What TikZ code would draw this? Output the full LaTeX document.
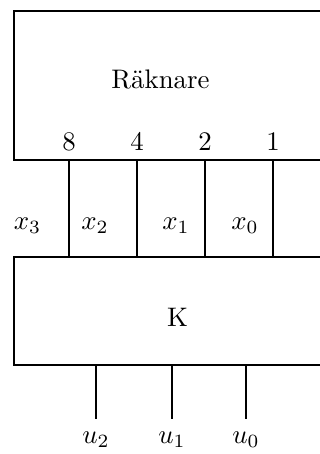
\documentclass[tikz,border=0pt]{standalone}
\begin{document}
\begin{tikzpicture}[x=0.373pt,y=-0.373pt,
  box/.style={draw,line width=1.1pt,rectangle,inner sep=0pt,outer sep=0pt,anchor=north west},
  wire/.style={line width=1.1pt},
  lab/.style={inner sep=0pt,anchor=center}]
\useasboundingbox (0,0) rectangle (320,454);
\clip (0,0) rectangle (320,454);
% boxes
\node[box,minimum width=340*0.373pt,minimum height=149*0.373pt] (cnt) at (14,11) {};
\node[box,minimum width=340*0.373pt,minimum height=108*0.373pt] (K) at (14,257) {};
\node[lab] (cntt) at (160.5,79) {Räknare};
\node[lab] (Kt) at (177.5,317) {K};
% weights
\foreach \n/\x/\w in {a/69/8,b/137/4,c/205/2,d/273/1}{
  \node[lab] (w\n) at (\x,141.5) {\w};
  \coordinate (t\n) at (\x,160);
  \draw[wire] (t\n) -- (t\n |- K.north);
}
% x labels
\node[lab] (x3) at (27.5,226) {$x_3$};
\node[lab] (x2) at (95,226) {$x_2$};
\node[lab] (x1) at (176,226) {$x_1$};
\node[lab] (x0) at (245,226) {$x_0$};
% outputs
\foreach \n/\x/\i in {a/96/2,b/172/1,c/246/0}{
  \coordinate (o\n) at (\x,419);
  \draw[wire] (o\n |- K.south) -- (o\n);
  \node[lab] (u\i) at (\x,440) {$u_\i$};
}
\end{tikzpicture}
\end{document}
